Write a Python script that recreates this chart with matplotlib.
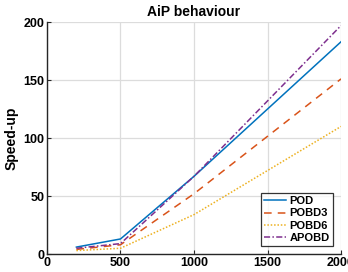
import matplotlib
matplotlib.use("Agg")
import matplotlib.pyplot as plt

# -----------------------------
# Data
# -----------------------------
n_points = [200, 500, 1000, 2000]
pod = [6, 13, 67, 183]
pobd3 = [4, 8, 52, 151]
pobd6 = [3, 5, 34, 110]
apobd = [5, 9, 67, 197]

plt.rcParams['font.family'] = ['Liberation Sans', 'DejaVu Sans']
plt.rcParams['font.weight'] = 'bold'

fig = plt.figure(figsize=(3.48, 2.72), dpi=100)
ax = fig.add_axes([0.135, 0.066, 0.845, 0.853])

ax.plot(n_points, pod, color="#0072BD", lw=1.1, ls="-", label="POD")
ax.plot(n_points, pobd3, color="#D95319", lw=1.1, ls=(0, (5, 4)), label="POBD3")
ax.plot(n_points, pobd6, color="#EDB120", lw=1.1, ls=(0, (1, 1.2)), label="POBD6")
ax.plot(n_points, apobd, color="#7E2F8E", lw=1.1, ls=(0, (4, 1.5, 1, 1.5)), label="APOBD")

ax.set_xlim(0, 2000)
ax.set_ylim(0, 200)
ax.set_xticks([0, 500, 1000, 1500, 2000])
ax.set_yticks([0, 50, 100, 150, 200])
ax.grid(True, color="#dcdcdc", lw=0.9)
ax.set_axisbelow(True)

for s in ["top", "right"]:
    ax.spines[s].set_visible(False)
for s in ["left", "bottom"]:
    ax.spines[s].set_linewidth(1.0)
    ax.spines[s].set_color("#262626")

ax.tick_params(labelsize=9, direction="in", length=3, color="#262626", pad=2)
for lbl in ax.get_xticklabels() + ax.get_yticklabels():
    lbl.set_fontweight("bold")

ax.set_title("AiP behaviour", fontsize=10, fontweight="bold", pad=4)
ax.set_ylabel("Speed-up", fontsize=10, fontweight="bold", labelpad=3)

leg = ax.legend(loc="lower right", fontsize=8, frameon=True, fancybox=False,
                edgecolor="black", handlelength=2.0, borderpad=0.3,
                labelspacing=0.2, handletextpad=0.3, borderaxespad=0.7)
leg.get_frame().set_linewidth(0.9)
for t in leg.get_texts():
    t.set_fontweight("bold")

fig.savefig("out.png", dpi=100)
